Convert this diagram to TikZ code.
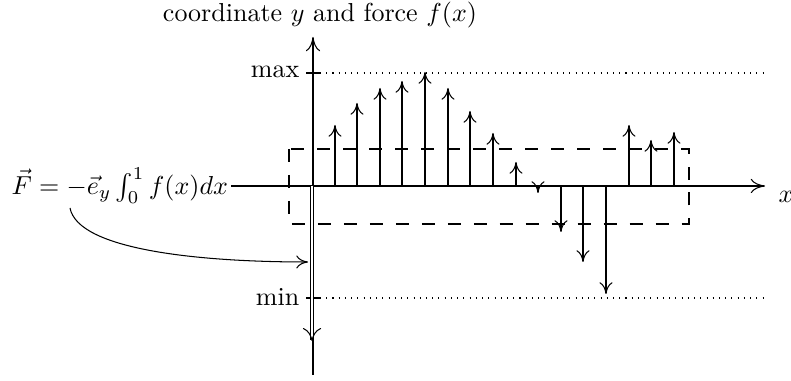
\documentclass[tikz,border=0pt]{standalone}
\usetikzlibrary{arrows.meta}
\begin{document}
\begin{tikzpicture}[x=0.385pt,y=-0.385pt,
  >={To[length=4.5pt,width=5pt]},
  force/.style={->},
  axis/.style={-{To[length=5.5pt,width=5.5pt]}},
  level/.style={dotted},
  box/.style={dash pattern=on 5pt off 5pt}]
\useasboundingbox (0,0) rectangle (791,381);
% axes
\coordinate (O) at (313,186);
\coordinate (ytop) at (313,37);
\coordinate (ybot) at (313,375);
\coordinate (xend) at (765,186);
\node[anchor=east,inner sep=1pt] (F) at (231,186) {$\vec{F} = -\vec{e}_y \int_0^1 f(x)dx$};
\draw[axis] (F.east) -- (xend);
\draw[axis] (ybot) -- (ytop);
\node (ttl) at (320,15) {coordinate $y$ and force $f(x)$};
\node (xl) at (786,197) {$x$};
% levels
\draw (306,73) -- (320,73);
\draw (306,298) -- (320,298);
\node[anchor=east,inner sep=2pt] (maxl) at (305,72) {max};
\node[anchor=east,inner sep=2pt] (minl) at (305,297) {min};
\draw[level] (320,73) -- (765,73);
\draw[level] (320,298) -- (765,298);
% forces
\foreach \x/\y in {335/125,357/103,380/88,402/81,425/72,448/88,470/111,493/133,516/162,538/193,561/232,583/262,606/294,629/125,651/140,674/132}
  \draw[force] (\x,186) -- (\x,\y);
% box
\draw[box] (289,149) rectangle (689,224);
% resultant
\coordinate (res) at (312,341);
\draw[double,double distance=1.1pt,-{To[length=5pt,width=7pt]}] (312,186) -- (res);
\coordinate (cs) at (70,208);
\coordinate (ce) at (308,262);
\draw[->] (cs) .. controls (78,250) and (200,262) .. (ce);
\end{tikzpicture}
\end{document}
